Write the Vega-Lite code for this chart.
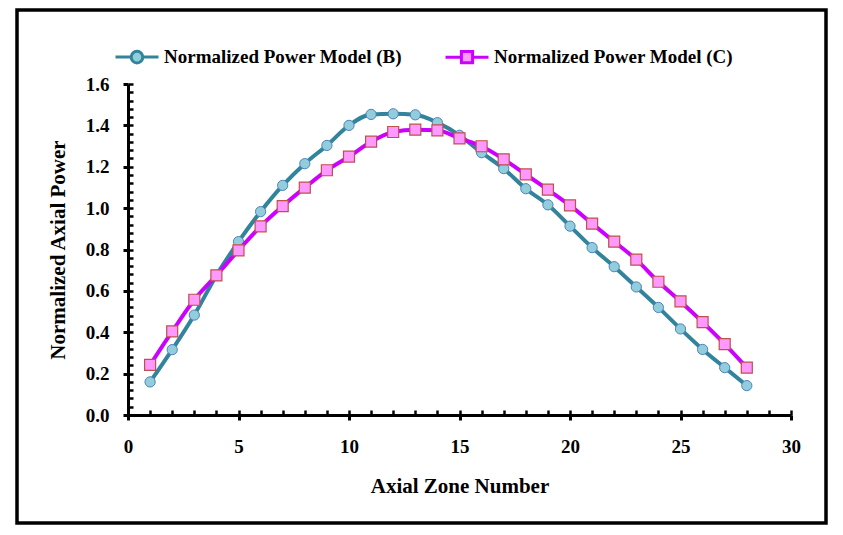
{
  "$schema": "https://vega.github.io/schema/vega-lite/v6.json",
  "width": 809,
  "height": 513,
  "autosize": {"type": "none"},
  "padding": {"left": 17, "top": 10, "right": 17, "bottom": 12},
  "background": "white",
  "config": {
    "view": {"stroke": "black", "strokeWidth": 3.5},
    "font": "Liberation Serif",
    "axis": {
      "grid": false,
      "labelFont": "Liberation Serif",
      "labelFontWeight": "bold",
      "labelFontSize": 19,
      "labelColor": "black",
      "titleFont": "Liberation Serif",
      "titleFontWeight": "bold",
      "titleFontSize": 21,
      "titleColor": "black",
      "domainColor": "black",
      "tickColor": "black",
      "domainWidth": 3,
      "tickWidth": 3
    }
  },
  "data": {
    "values": [
      {"zone": 1, "B": 0.16, "C": 0.242},
      {"zone": 2, "B": 0.316, "C": 0.404},
      {"zone": 3, "B": 0.483, "C": 0.557},
      {"zone": 4, "B": 0.675, "C": 0.675},
      {"zone": 5, "B": 0.838, "C": 0.796},
      {"zone": 6, "B": 0.983, "C": 0.912},
      {"zone": 7, "B": 1.11, "C": 1.01},
      {"zone": 8, "B": 1.215, "C": 1.099},
      {"zone": 9, "B": 1.303, "C": 1.183},
      {"zone": 10, "B": 1.4, "C": 1.249},
      {"zone": 11, "B": 1.453, "C": 1.321},
      {"zone": 12, "B": 1.456, "C": 1.368},
      {"zone": 13, "B": 1.451, "C": 1.379},
      {"zone": 14, "B": 1.413, "C": 1.376},
      {"zone": 15, "B": 1.352, "C": 1.337},
      {"zone": 16, "B": 1.268, "C": 1.299},
      {"zone": 17, "B": 1.191, "C": 1.236},
      {"zone": 18, "B": 1.094, "C": 1.163},
      {"zone": 19, "B": 1.016, "C": 1.089},
      {"zone": 20, "B": 0.913, "C": 1.013},
      {"zone": 21, "B": 0.809, "C": 0.925},
      {"zone": 22, "B": 0.717, "C": 0.838},
      {"zone": 23, "B": 0.619, "C": 0.751},
      {"zone": 24, "B": 0.52, "C": 0.644},
      {"zone": 25, "B": 0.416, "C": 0.549},
      {"zone": 26, "B": 0.317, "C": 0.449},
      {"zone": 27, "B": 0.229, "C": 0.343},
      {"zone": 28, "B": 0.142, "C": 0.229}
    ]
  },
  "layer": [
    {
      "mark": {"type": "line", "interpolate": "monotone", "strokeWidth": 4},
      "encoding": {
        "x": {
          "field": "zone", "type": "quantitative",
          "scale": {"domain": [0, 30], "range": [111, 774], "nice": false},
          "axis": {"orient": "bottom", "offset": -108, "values": [0, 5, 10, 15, 20, 25, 30], "tickSize": 5, "labelPadding": 17, "labelFlush": false, "title": "Axial Zone Number", "titlePadding": 19}
        },
        "y": {
          "field": "B", "type": "quantitative",
          "scale": {"domain": [0, 1.6], "range": [405, 74], "nice": false, "zero": false},
          "axis": {"orient": "left", "offset": -111, "values": [0, 0.2, 0.4, 0.6, 0.8, 1.0, 1.2, 1.4, 1.6], "format": ".1f", "tickSize": 5, "labelPadding": 14, "labelFlush": false, "title": "Normalized Axial Power", "titlePadding": 17}
        },
        "color": {
          "datum": "Normalized Power Model (B)",
          "scale": {"domain": ["Normalized Power Model (B)", "Normalized Power Model (C)"], "range": ["#31849B", "#CC00FF"]},
          "legend": {
            "orient": "none", "legendX": 97, "legendY": 24, "direction": "horizontal",
            "title": null, "padding": 0, "labelLimit": 0,
            "labelFont": "Liberation Serif", "labelFontWeight": "bold", "labelFontSize": 19, "labelColor": "black",
            "symbolSize": 1849, "symbolStrokeWidth": 3, "labelOffset": 4, "columnPadding": 37,
            "encode": {
              "symbols": {
                "update": {
                  "shape": {"signal": "datum.value === 'Normalized Power Model (B)' ? 'M-1,0L-0.27,0M0.27,0L1,0M0.27,0A0.27,0.27,0,1,1,-0.27,0A0.27,0.27,0,1,1,0.27,0Z' : 'M-1,0L-0.26,0M0.26,0L1,0M-0.26,-0.26L0.26,-0.26L0.26,0.26L-0.26,0.26Z'"},
                  "fill": {"signal": "datum.value === 'Normalized Power Model (B)' ? '#92CDDC' : '#FF99FF'"},
                  "stroke": {"signal": "datum.value === 'Normalized Power Model (B)' ? '#31849B' : '#CC00FF'"},
                  "strokeWidth": {"value": 3}
                }
              }
            }
          }
        }
      }
    },
    {
      "mark": {"type": "point", "shape": "circle", "filled": true, "fill": "#92CDDC", "stroke": "#4F81BD", "strokeWidth": 1, "size": 105, "opacity": 1},
      "encoding": {
        "x": {
          "field": "zone", "type": "quantitative",
          "axis": {"orient": "bottom", "offset": -108, "values": [0,1,2,3,4,5,6,7,8,9,10,11,12,13,14,15,16,17,18,19,20,21,22,23,24,25,26,27,28,29,30], "tickSize": -5, "tickWidth": 2.5, "labels": false, "domain": false, "title": null}
        },
        "y": {
          "field": "B", "type": "quantitative",
          "axis": {"orient": "left", "offset": -111, "values": [0,0.04,0.08,0.12,0.16,0.2,0.24,0.28,0.32,0.36,0.4,0.44,0.48,0.52,0.56,0.6,0.64,0.68,0.72,0.76,0.8,0.84,0.88,0.92,0.96,1.0,1.04,1.08,1.12,1.16,1.2,1.24,1.28,1.32,1.36,1.4,1.44,1.48,1.52,1.56,1.6], "tickSize": -5, "tickWidth": 2.5, "labels": false, "domain": false, "title": null}
        }
      }
    },
    {
      "mark": {"type": "line", "interpolate": "monotone", "strokeWidth": 4},
      "encoding": {
        "x": {"field": "zone", "type": "quantitative", "axis": null},
        "y": {"field": "C", "type": "quantitative", "axis": null},
        "color": {"datum": "Normalized Power Model (C)"}
      }
    },
    {
      "mark": {"type": "point", "shape": "square", "filled": true, "fill": "#FF99FF", "stroke": "#C0504D", "strokeWidth": 1.2, "size": 121, "opacity": 1},
      "encoding": {
        "x": {"field": "zone", "type": "quantitative", "axis": null},
        "y": {"field": "C", "type": "quantitative", "axis": null}
      }
    }
  ],
  "resolve": {"axis": {"x": "independent", "y": "independent"}}
}
